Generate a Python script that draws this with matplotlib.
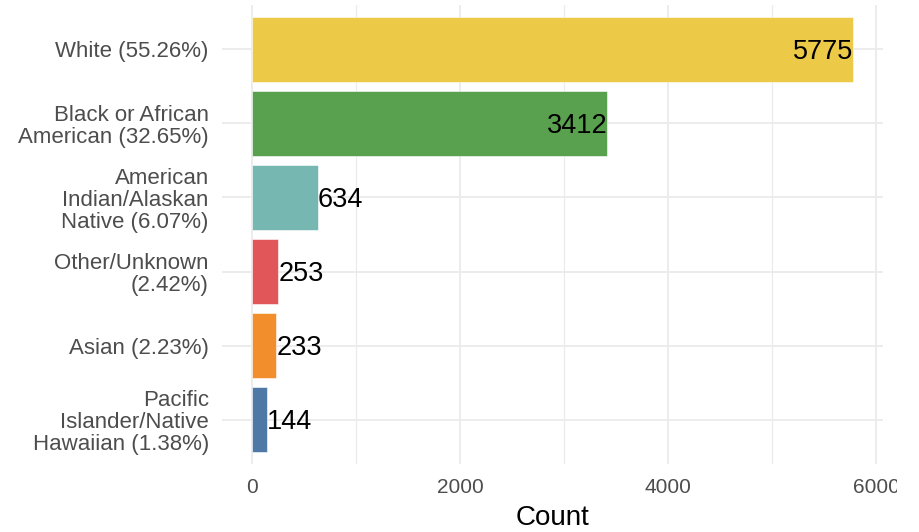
"""
Race breakdown, horizontal bar chart
"""
import numpy as np
import matplotlib
matplotlib.use("Agg")
import matplotlib.pyplot as plt
from matplotlib.patches import Rectangle

# data (top to bottom)
categories = ["White (55.26%)",
              "Black or African\nAmerican (32.65%)",
              "American\nIndian/Alaskan\nNative (6.07%)",
              "Other/Unknown\n(2.42%)",
              "Asian (2.23%)",
              "Pacific\nIslander/Native\nHawaiian (1.38%)"]
counts = [5775, 3412, 634, 253, 233, 144]
colors = ["#EDC948", "#59A14F", "#76B7B2", "#E15759", "#F28E2B", "#4E79A7"]
xticks = [0, 2000, 4000, 6000]

plt.rcParams['font.family'] = ['Liberation Sans', 'DejaVu Sans']

fig = plt.figure(figsize=(9.19, 5.32), dpi=100)
ax = fig.add_axes([0.2416, 0.1278, 0.7192, 0.8628])

y = np.arange(len(categories))
ax.barh(y, counts, height=0.88, color=colors, edgecolor="white", linewidth=0.4, zorder=2)

#labels: inside the long bars, outside the short ones
big = max(counts)
for yi, c in zip(y, counts):
    if c > big / 2:
        ax.text(c, yi + 0.03, str(c), ha="right", va="center", fontsize=19.5, color="black", zorder=3)
    else:
        ax.text(c, yi + 0.03, str(c), ha="left", va="center", fontsize=19.5, color="black", zorder=3)

pad = big * 0.05
ax.set_xlim(-pad, big + pad)
ax.set_ylim(len(categories) - 1 + 0.6, -0.6)

ax.set_yticks(y)
ax.set_yticklabels(categories, fontsize=16, color="#4D4D4D", linespacing=1.05)
ax.set_xticks(xticks)
ax.set_xticklabels([str(t) for t in xticks], fontsize=15, color="#4D4D4D")
ax.set_xticks([1000, 3000, 5000], minor=True)
ax.tick_params(axis="both", which="both", length=0)
ax.tick_params(axis="y", pad=9.5)
ax.tick_params(axis="x", pad=10)

ax.grid(True, which="major", color="#EBEBEB", linewidth=1.3, zorder=0)
ax.grid(True, which="minor", axis="x", color="#EBEBEB", linewidth=0.9, zorder=0)
ax.set_axisbelow(True)
for s in ax.spines.values():
    s.set_visible(False)

ax.set_xlabel("Count", fontsize=20, color="black", labelpad=6)

# the original image is cut off on the right, past the last tick label
fig.patches.append(Rectangle((897 / 919, 0), 1, 1, transform=fig.transFigure,
                             facecolor="white", edgecolor="none", zorder=10))

plt.savefig("out.png", dpi=100)
